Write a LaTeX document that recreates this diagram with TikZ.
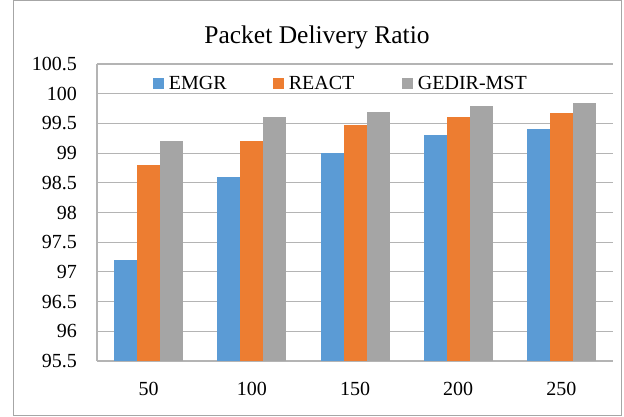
\documentclass[tikz,border=0pt]{standalone}
\usepackage{fontspec}
\setmainfont{Liberation Serif}
\usetikzlibrary{positioning}
\definecolor{emgrblue}{HTML}{5B9BD5}
\definecolor{reactorange}{HTML}{ED7D31}
\definecolor{gedirgray}{HTML}{A5A5A5}
\definecolor{gridgray}{HTML}{B4B4B4}
\definecolor{framegray}{HTML}{A6A6A6}
\begin{document}
\begin{tikzpicture}[
    x=1pt, y=-1pt,
    every node/.style={font=\fontsize{20}{24}\selectfont, inner sep=0pt},
    gridline/.style={gridgray, line width=1.1pt},
    key/.style={minimum size=11pt, inner sep=0pt}
  ]
  \useasboundingbox (0,0) rectangle (624,416);

  % Frame and title
  \draw[framegray, line width=1pt] (13,0.5) rectangle (621,415);
  \node[font=\fontsize{25.5}{30}\selectfont, anchor=base] (title) at (317,43.5) {Packet Delivery Ratio};

  % Value axis with gridlines
  \foreach \v [count=\k] in {95.5,96,96.5,97,97.5,98,98.5,99,99.5,100,100.5} {
    \draw[gridline] (97,{361-(\v-95.5)*59.4}) -- (613,{361-(\v-95.5)*59.4});
    \node[anchor=east] (y\k) at (77,{361-(\v-95.5)*59.4}) {\v};
  }
  \draw[gridline] (97,64) -- (97,361);

  % Bars for each number of nodes
  \foreach \a/\b/\c [count=\i from 0] in {97.2/98.8/99.2, 98.6/99.2/99.6, 99.0/99.47/99.7, 99.3/99.6/99.8, 99.4/99.68/99.84} {
    \pgfmathsetmacro\cx{148.6+103.2*\i}
    \pgfmathtruncatemacro\n{50*(\i+1)}
    \fill[emgrblue] (\cx-34.5,361) rectangle (\cx-11.5,{361-(\a-95.5)*59.4});
    \fill[reactorange] (\cx-11.5,361) rectangle (\cx+11.5,{361-(\b-95.5)*59.4});
    \fill[gedirgray] (\cx+11.5,361) rectangle (\cx+34.5,{361-(\c-95.5)*59.4});
    \node (x\i) at (\cx,388.5) {\n};
  }

  % Legend
  \node[key, fill=emgrblue] (keyE) at (158,83) {};
  \node[right=5pt of keyE] (legE) {EMGR};
  \node[key, fill=reactorange] (keyR) at (278,83) {};
  \node[right=5pt of keyR] (legR) {REACT};
  \node[key, fill=gedirgray] (keyG) at (407,83) {};
  \node[right=5pt of keyG] (legG) {GEDIR-MST};

\end{tikzpicture}
\end{document}
